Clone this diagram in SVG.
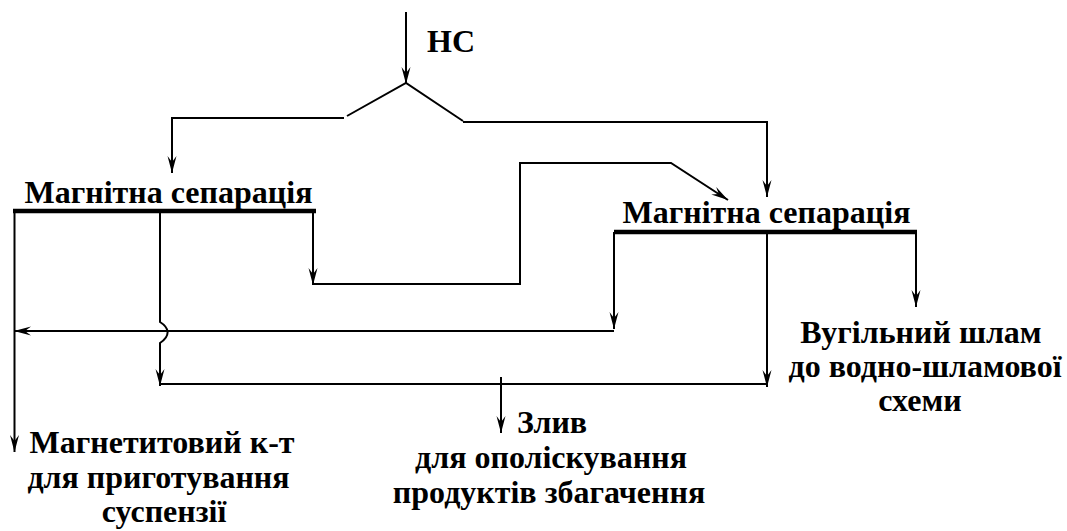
<svg xmlns="http://www.w3.org/2000/svg" width="1067" height="531" viewBox="0 0 1067 531">
<defs>
<marker id="ah" markerUnits="userSpaceOnUse" viewBox="-18 -6 20 12" refX="0" refY="0" markerWidth="20" markerHeight="12" orient="auto">
<path d="M0,0 L-17,-4.5 L-11,0 L-17,4.5 Z" fill="#000"/>
</marker>
</defs>
<rect width="1067" height="531" fill="#fff"/>
<g id="connectors" fill="none" stroke="#000" stroke-width="2">
<path d="M406,12 V84" marker-end="url(#ah)"/>
<path d="M347,116 L406,83 L463,121"/>
<path d="M344,118 H172 V173" marker-end="url(#ah)"/>
<path d="M463,122 H767 V197" marker-end="url(#ah)"/>
<path d="M14.5,211 V452" marker-end="url(#ah)"/>
<path d="M160,211 V322 C168,327 172,335 160,343 V386" marker-end="url(#ah)"/>
<path d="M313,211 V285" marker-end="url(#ah)"/>
<path d="M313,284 H520 V163 H671 L728,200" marker-end="url(#ah)"/>
<path d="M614,232 V329" marker-end="url(#ah)"/>
<path d="M614,331 H14" marker-end="url(#ah)"/>
<path d="M767,232 V387" marker-end="url(#ah)"/>
<path d="M160,384 H767"/>
<path d="M916,232 V307" marker-end="url(#ah)"/>
<path d="M501,377 V433" marker-end="url(#ah)"/>
</g>
<g font-family="'Liberation Serif', serif" font-weight="bold" font-size="32" fill="#000">
<g id="feed"><text x="427" y="52">НС</text></g>
<g id="sep1">
<text x="168.5" y="203" text-anchor="middle">Магнітна сепарація</text>
<line x1="13" y1="211" x2="316" y2="211" stroke="#000" stroke-width="4.5"/>
</g>
<g id="sep2">
<text x="766.5" y="223" text-anchor="middle">Магнітна сепарація</text>
<line x1="614" y1="232" x2="917" y2="232" stroke="#000" stroke-width="4.5"/>
</g>
<g id="magnetite">
<text x="162" y="453" text-anchor="middle">Магнетитовий к-т</text>
<text x="158.5" y="488" text-anchor="middle">для приготування</text>
<text x="164" y="522" text-anchor="middle">суспензії</text>
</g>
<g id="drain">
<text x="517" y="433">Злив</text>
<text x="551" y="468" text-anchor="middle">для ополіскування</text>
<text x="549" y="503" text-anchor="middle">продуктів збагачення</text>
</g>
<g id="coal">
<text x="921" y="343" text-anchor="middle">Вугільний шлам</text>
<text x="925" y="377" text-anchor="middle">до водно-шламової</text>
<text x="920" y="411" text-anchor="middle">схеми</text>
</g>
</g>
</svg>
